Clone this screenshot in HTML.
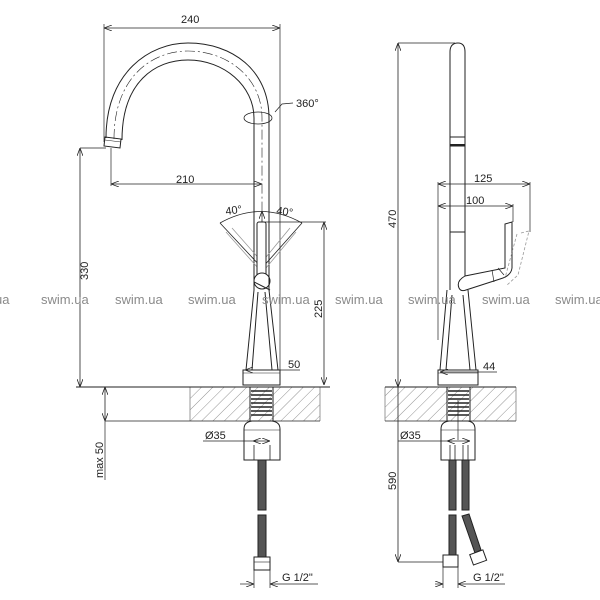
<!DOCTYPE html>
<html><head><meta charset="utf-8"><style>
html,body{margin:0;padding:0;background:#fff;width:600px;height:600px;overflow:hidden}
svg{display:block;font-family:"Liberation Sans",sans-serif}
</style></head><body>
<svg width="600" height="600" viewBox="0 0 600 600" xmlns="http://www.w3.org/2000/svg">
<defs>
<pattern id="h" width="8" height="8" patternUnits="userSpaceOnUse" patternTransform="rotate(45)">
<line x1="0" y1="0" x2="0" y2="8" stroke="#777" stroke-width="0.8"/></pattern>
<marker id="a" markerWidth="8" markerHeight="6" refX="8" refY="3" orient="auto-start-reverse" markerUnits="userSpaceOnUse"><path d="M0,0 L8,3 L0,6" fill="none" stroke="#222" stroke-width="0.8"/></marker>
</defs>
<g fill="none" stroke="#222" stroke-width="1">
<!-- hatched counters -->
<rect x="190" y="387" width="130" height="34" fill="url(#h)" stroke="none"/>
<rect x="385" y="387" width="131" height="34" fill="url(#h)" stroke="none"/>
<line x1="190" y1="387" x2="190" y2="421" stroke="#999"/>
<line x1="320" y1="387" x2="320" y2="421" stroke="#999"/>
<line x1="385" y1="387" x2="385" y2="421" stroke="#999"/>
<line x1="516" y1="387" x2="516" y2="421" stroke="#999"/>
<line x1="76" y1="387" x2="330" y2="387"/>
<line x1="105" y1="421" x2="320" y2="421" stroke-width="0.8"/>
<line x1="385" y1="387" x2="516" y2="387"/>
<line x1="385" y1="421" x2="516" y2="421" stroke-width="0.8"/>

<!-- LEFT VIEW -->
<line x1="104" y1="28" x2="280" y2="28" marker-start="url(#a)" marker-end="url(#a)" stroke-width="0.8"/>
<line x1="104" y1="24" x2="104" y2="142" stroke-width="0.7"/>
<line x1="280" y1="24" x2="280" y2="385" stroke-width="0.7"/>
<path d="M106,138 C106,72 150,43 188,43 C232,43 269,70 269,118 L269,270"/>
<path d="M122,140 C122,82 155,60 188,60 C224,60 254,86 254,118 L254,270"/>
<path d="M114,139 C114,77 152,51 188,51 C228,51 262,78 262,118 L262,230" stroke-dasharray="10,3,2,3" stroke-width="0.6"/>
<path d="M105,137 L121,139 L120,148 L104,146 Z"/>
<line x1="105" y1="140" x2="121" y2="142" stroke-width="0.6"/>
<ellipse cx="258" cy="118" rx="14" ry="6" stroke-width="0.8"/>
<path d="M275,112 L282,104 L293,103" stroke-width="0.7"/>
<line x1="80" y1="148" x2="106" y2="148" stroke-width="0.7"/>
<line x1="80" y1="148" x2="80" y2="387" marker-start="url(#a)" marker-end="url(#a)" stroke-width="0.8"/>
<line x1="111" y1="148" x2="111" y2="186" stroke-width="0.7"/>
<line x1="111" y1="184" x2="262" y2="184" marker-start="url(#a)" marker-end="url(#a)" stroke-width="0.8"/>
<!-- lever angles -->
<path d="M220,223 Q261,200 302,223" stroke-width="0.8"/>
<line x1="220" y1="223" x2="262" y2="268" stroke-width="0.8"/>
<line x1="302" y1="223" x2="262" y2="268" stroke-width="0.8"/>
<path d="M226,232 L258,268 M232,228 L262,262" stroke="#999" stroke-width="0.8"/>
<path d="M296,232 L266,268 M290,228 L262,262" stroke="#999" stroke-width="0.8"/>
<line x1="262" y1="211" x2="262" y2="225" marker-start="url(#a)" stroke-width="0.7"/>
<rect x="257" y="222" width="9" height="55" rx="2" fill="#fff"/>
<circle cx="262" cy="281" r="8" fill="#fff"/>
<line x1="254" y1="282" x2="270" y2="290"/>
<line x1="265" y1="222" x2="326" y2="222" stroke-width="0.7"/>
<line x1="324" y1="222" x2="324" y2="385" marker-start="url(#a)" marker-end="url(#a)" stroke-width="0.8"/>
<line x1="254" y1="270" x2="254" y2="290"/><line x1="269" y1="270" x2="269" y2="290"/>
<path d="M254,290 L246,370 M269,290 L278,370 M258,292 L252,370 M265,292 L272,370"/>
<rect x="243" y="370" width="37" height="15"/>
<line x1="243" y1="373" x2="280" y2="373" stroke-width="0.6"/>
<line x1="245" y1="370" x2="300" y2="370" marker-start="url(#a)" stroke-width="0.7"/>
<rect x="250" y="387" width="23" height="34"/>
<path d="M251,391h21M251,395h21M251,399h21M251,403h21M251,407h21M251,411h21M251,415h21" stroke-width="1.5"/>
<path d="M244,460 L244,429 Q244,422 252,421 L272,421 Q280,422 280,429 L280,460 Z"/>
<line x1="244" y1="430" x2="280" y2="430" stroke-width="0.6"/>
<line x1="203" y1="441" x2="270" y2="441" marker-end="url(#a)" stroke-width="0.7"/>
<line x1="253" y1="441" x2="258" y2="441" marker-start="url(#a)" stroke-width="0.7"/>
<path d="M254,445 V460 M270,445 V460" stroke-width="0.8"/>
<rect x="258" y="460" width="8" height="50" fill="#555" stroke="#222"/>
<rect x="258" y="515" width="8" height="42" fill="#555" stroke="#222"/>
<rect x="254" y="557" width="16" height="13" fill="#fff"/>
<line x1="254" y1="562" x2="270" y2="562" stroke-width="0.6"/>
<line x1="254" y1="570" x2="254" y2="588" stroke-width="0.7"/><line x1="270" y1="570" x2="270" y2="588" stroke-width="0.7"/>
<line x1="240" y1="584" x2="254" y2="584" marker-end="url(#a)" stroke-width="0.7"/>
<line x1="270" y1="584" x2="318" y2="584" marker-start="url(#a)" stroke-width="0.7"/>
<line x1="105" y1="387" x2="105" y2="421" marker-start="url(#a)" marker-end="url(#a)" stroke-width="0.8"/>
<line x1="105" y1="421" x2="105" y2="480" stroke-width="0.7"/>

<!-- RIGHT VIEW -->
<line x1="398" y1="43" x2="455" y2="43" stroke-width="0.7"/>
<line x1="398" y1="43" x2="398" y2="387" marker-start="url(#a)" marker-end="url(#a)" stroke-width="0.8"/>
<line x1="398" y1="387" x2="398" y2="562" marker-end="url(#a)" stroke-width="0.8"/>
<line x1="398" y1="562" x2="445" y2="562" stroke-width="0.7"/>
<path d="M450,290 L450,52 Q450,43 458,43 Q465,43 465,52 L465,282"/>
<rect x="450" y="137" width="15" height="9" stroke-width="1"/>
<line x1="450" y1="145" x2="465" y2="145" stroke-width="2"/>
<line x1="450" y1="232" x2="465" y2="232"/>
<line x1="438" y1="184" x2="530" y2="184" marker-start="url(#a)" marker-end="url(#a)" stroke-width="0.8"/>
<line x1="438" y1="206" x2="513" y2="206" marker-start="url(#a)" marker-end="url(#a)" stroke-width="0.8"/>
<line x1="438" y1="182" x2="438" y2="340" stroke-width="0.7"/>
<line x1="530" y1="182" x2="530" y2="232" stroke-width="0.7"/>
<line x1="513" y1="204" x2="513" y2="222" stroke-width="0.7"/>
<path d="M459,288 Q456,281 465,276 L505,268 L505,224 L512,222 L512,268 Q511,276 500,279 L466,290 Q461,292 459,288 Z" fill="#fff"/>
<path d="M492,270 L494,282 M498,268 L504,275" stroke-width="0.7"/>
<path d="M521,233 L529,231 L518,275 L506,286 M517,234 L505,278" stroke="#999" stroke-dasharray="3,2" stroke-width="0.8"/>
<path d="M447,290 L440,370 M468,290 L476,370 M452,295 L446,370 M463,295 L470,370"/>
<rect x="438" y="370" width="40" height="15"/>
<line x1="438" y1="373" x2="478" y2="373" stroke-width="0.6"/>
<line x1="440" y1="372" x2="497" y2="372" marker-start="url(#a)" stroke-width="0.7"/>
<rect x="447" y="387" width="23" height="34"/>
<path d="M448,391h21M448,395h21M448,399h21M448,403h21M448,407h21M448,411h21M448,415h21" stroke-width="1.5"/>
<line x1="458" y1="400" x2="458" y2="440" stroke-width="0.7"/>
<path d="M441,460 L441,429 Q441,422 449,421 L468,421 Q475,422 475,429 L475,460 Z"/>
<line x1="441" y1="430" x2="475" y2="430" stroke-width="0.6"/>
<line x1="398" y1="441" x2="470" y2="441" marker-end="url(#a)" stroke-width="0.7"/>
<line x1="447" y1="441" x2="452" y2="441" marker-start="url(#a)" stroke-width="0.7"/>
<path d="M450,445 V460 M455,445 V460 M463,445 V460 M468,445 V460" stroke-width="0.8"/>
<rect x="449" y="460" width="7" height="50" fill="#555" stroke="#222"/>
<rect x="462" y="460" width="7" height="50" fill="#555" stroke="#222"/>
<rect x="449" y="515" width="7" height="40" fill="#555" stroke="#222"/>
<path d="M462,516 L469,514 L481,550 L475,553 Z" fill="#555" stroke="#222"/>
<rect x="443" y="555" width="15" height="12" fill="#fff"/>
<rect x="471" y="552" width="14" height="11" transform="rotate(-20 478 557)" fill="#fff"/>
<line x1="443" y1="567" x2="443" y2="588" stroke-width="0.7"/><line x1="458" y1="567" x2="458" y2="588" stroke-width="0.7"/>
<line x1="435" y1="584" x2="443" y2="584" marker-end="url(#a)" stroke-width="0.7"/>
<line x1="458" y1="584" x2="505" y2="584" marker-start="url(#a)" stroke-width="0.7"/>
</g>

<g fill="#222" font-size="11">
<text x="181" y="23">240</text>
<text x="296" y="107">360°</text>
<text x="176" y="183">210</text>
<text x="226" y="215" transform="rotate(-8 226 215)">40°</text>
<text x="276" y="214" transform="rotate(8 276 214)">40°</text>
<text x="288" y="368">50</text>
<text x="205" y="439">Ø35</text>
<text x="282" y="581">G 1/2"</text>
<text x="88" y="280" transform="rotate(-90 88 280)">330</text>
<text x="322" y="318" transform="rotate(-90 322 318)">225</text>
<text x="103" y="478" transform="rotate(-90 103 478)">max 50</text>
<text x="396" y="228" transform="rotate(-90 396 228)">470</text>
<text x="474" y="182">125</text>
<text x="466" y="204">100</text>
<text x="483" y="370">44</text>
<text x="400" y="439">Ø35</text>
<text x="396" y="490" transform="rotate(-90 396 490)">590</text>
<text x="473" y="581">G 1/2"</text>
</g>
<g fill="#8a8a8a" font-size="13">
<text x="-5" y="304">ua</text>
<text x="41" y="304">swim.ua</text>
<text x="115" y="304">swim.ua</text>
<text x="188" y="304">swim.ua</text>
<text x="262" y="304">swim.ua</text>
<text x="335" y="304">swim.ua</text>
<text x="408" y="304">swim.ua</text>
<text x="482" y="304">swim.ua</text>
<text x="555" y="304">swim.ua</text>
</g>
</svg>
</body></html>
